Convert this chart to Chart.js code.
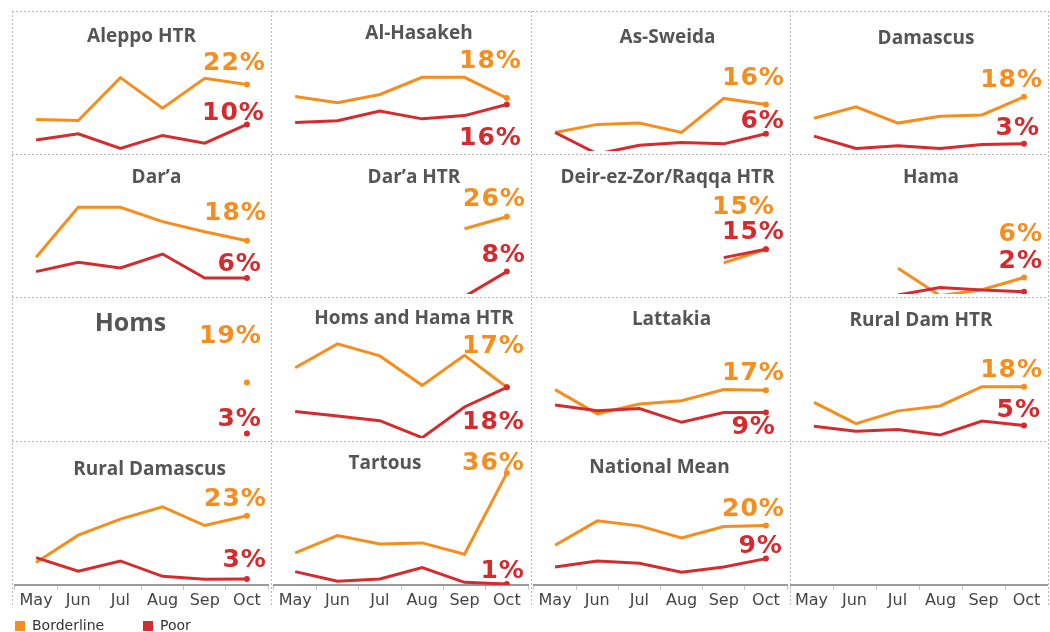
<!DOCTYPE html>
<html>
<head>
<meta charset="utf-8">
<script src="https://cdn.jsdelivr.net/npm/chart.js@4.4.1/dist/chart.umd.min.js"></script>
<style>
  html, body { margin: 0; padding: 0; background: #fff; }
  #wrap { position: relative; width: 1050px; height: 632px; overflow: hidden; }
  #wrap canvas { position: absolute; }
  .legend { position: absolute; top: 617px; font: 14px "DejaVu Sans", sans-serif; color: #333; }
  .legend span { display: inline-block; width: 10px; height: 10px; margin-right: 7px; vertical-align: -1px; }
</style>
</head>
<body>
<div id="wrap">
  <canvas id="bg" width="1050" height="632" style="left:0;top:0"></canvas>
  <div class="legend" style="left:15px"><span style="background:#F68D1F"></span>Borderline</div>
  <div class="legend" style="left:143px"><span style="background:#D52A2E"></span>Poor</div>
</div>
<script>
const months = ['May', 'Jun', 'Jul', 'Aug', 'Sep', 'Oct'];

const regions = [
  'Aleppo HTR', 'Al-Hasakeh', 'As-Sweida', 'Damascus',
  "Dar\u2019a", "Dar\u2019a HTR", 'Deir-ez-Zor/Raqqa HTR', 'Hama',
  'Homs', 'Homs and Hama HTR', 'Lattakia', 'Rural Dam HTR',
  'Rural Damascus', 'Tartous', 'National Mean'
];

// % of households
const borderline = [
  [11.0, 10.7, 23.9, 14.5, 23.7, 21.8],
  [18.1, 16.2, 18.7, 24.0, 24.0, 17.6],
  [7.0, 9.5, 9.9, 7.0, 17.5, 15.6],
  [11.4, 14.9, 9.9, 12.0, 12.4, 18.0],
  [12.6, 28.0, 28.0, 23.6, 20.5, 17.7],
  [null, null, null, null, 21.4, 25.1],
  [null, null, null, null, 10.9, 15.1],
  [null, null, 9.2, 0.8, 2.6, 6.4],
  [null, null, null, null, null, 18.3],
  [22.8, 30.1, 26.4, 17.4, 26.6, 16.8],
  [16.1, 8.7, 11.7, 12.7, 16.1, 15.9],
  [12.2, 5.7, 9.6, 11.1, 17.0, 17.0],
  [8.0, 16.2, 21.0, 24.7, 19.1, 22.0],
  [10.9, 16.1, 13.6, 13.9, 10.5, 34.8],
  [13.2, 20.5, 19.0, 15.4, 18.8, 19.1]
];

const poor = [
  [4.7, 6.6, 2.1, 6.1, 3.7, 9.5],
  [10.1, 10.6, 13.6, 11.2, 12.2, 15.6],
  [7.0, 0.4, 3.1, 3.9, 3.5, 6.6],
  [5.9, 2.1, 2.9, 2.1, 3.3, 3.5],
  [8.2, 11.1, 9.3, 13.6, 6.2, 6.2],
  [null, null, null, null, 0.5, 8.2],
  [null, null, null, null, 12.5, 15.1],
  [null, null, 1.0, 3.3, 2.5, 2.0],
  [null, null, null, null, null, 2.7],
  [9.4, 8.0, 6.6, 1.4, 10.8, 16.8],
  [11.4, 9.6, 10.3, 6.1, 9.1, 9.1],
  [4.9, 3.4, 3.9, 2.2, 6.5, 5.1],
  [9.5, 5.4, 8.5, 3.9, 3.0, 3.1],
  [5.3, 2.4, 3.1, 6.5, 2.1, 1.6],
  [6.7, 8.5, 7.8, 5.1, 6.7, 9.2]
];

// end-of-line labels as shown
const borderlineLabels = ['22%', '18%', '16%', '18%', '18%', '26%', '15%', '6%', '19%', '17%', '17%', '18%', '23%', '36%', '20%'];
const poorLabels = ['10%', '16%', '6%', '3%', '6%', '8%', '15%', '2%', '3%', '18%', '9%', '5%', '3%', '1%', '9%'];

// layout tweaks (Tableau placed these by hand)
const titleDx = [0, 18, 7, 7, 15, 13, 7, 12, -11, 13, 11, 2, 8, -16, -1];
const titleBase = [28, 25, 29, 30, 26, 26, 26, 26, 31, 24, 25, 26, 31, 25, 29];
const titleSize = [19, 19, 19, 19, 19, 19, 19, 19, 25, 19, 19, 19, 19, 19, 19];
const bLabelPos = [[18, -23], [14, -39], [18, -29], [18, -19], [19, -30], [18, -20], [8, -44], [18, -45],
  [14, -48], [17, -43], [18, -19], [18, -19], [19, -19], [17, -12], [18, -19]];
const pLabelPos = [[17, -13], [14, 31], [18, -15], [15, -18], [14, -16], [18, -19], [18, -19], [18, -33],
  [14, -16], [17, 33], [9, 13], [16, -18], [19, -21], [17, -15], [16, -15]];

const ORANGE = '#F68D1F';
const RED = '#D52A2E';
const colX = [12, 271, 531, 790, 1048];
const rowY = [11, 154, 297, 441, 585];
const AXIS_H = 24;

// dashed panel borders
(function drawGrid() {
  const c = document.getElementById('bg').getContext('2d');
  c.strokeStyle = '#b8b8b8';
  c.lineWidth = 1;
  c.setLineDash([2, 2]);
  colX.forEach(x => {
    c.beginPath(); c.moveTo(x + 0.5, rowY[0]); c.lineTo(x + 0.5, 606); c.stroke();
  });
  rowY.slice(0, 4).forEach(y => {
    c.beginPath(); c.moveTo(colX[0], y + 0.5); c.lineTo(colX[4], y + 0.5); c.stroke();
  });
})();

const panelText = {
  id: 'panelText',
  afterDatasetsDraw(chart, args, opts) {
    const i = opts.index;
    if (i == null || i >= regions.length) return;
    const { ctx, chartArea } = chart;
    ctx.save();
    ctx.fillStyle = '#555';
    ctx.font = 'bold ' + titleSize[i] + 'px "Open Sans"';
    ctx.textAlign = 'center';
    ctx.textBaseline = 'alphabetic';
    ctx.fillText(regions[i], (chartArea.left + chartArea.right) / 2 + titleDx[i], chartArea.top + titleBase[i]);

    ctx.font = 'bold 25px "DejaVu Sans"';
    ctx.letterSpacing = '1px';
    ctx.textAlign = 'right';
    [[0, borderlineLabels[i], bLabelPos[i], ORANGE], [1, poorLabels[i], pLabelPos[i], RED]].forEach(([d, txt, pos, col]) => {
      const pt = chart.getDatasetMeta(d).data[months.length - 1];
      ctx.fillStyle = col;
      ctx.fillText(txt, pt.x + pos[0] + 1, pt.y + pos[1] + 9);
    });
    ctx.restore();
  }
};

function lastDot(ctx) {
  return ctx.dataIndex === months.length - 1 ? 3 : 0;
}

function makeDataset(label, data, color, order) {
  return {
    label, data, order,
    borderColor: color,
    backgroundColor: color,
    borderWidth: 3,
    pointRadius: lastDot,
    pointBorderWidth: 0,
    pointHoverRadius: 0,
    tension: 0,
    spanGaps: false,
    clip: 0
  };
}

const wrap = document.getElementById('wrap');

for (let i = 0; i < 16; i++) {
  const col = i % 4, row = Math.floor(i / 4);
  const bottom = row === 3;
  const w = colX[col + 1] - colX[col];
  const h = rowY[row + 1] - rowY[row] + (bottom ? AXIS_H : 0);
  const cv = document.createElement('canvas');
  cv.width = w; cv.height = h;
  cv.style.left = colX[col] + 'px';
  cv.style.top = rowY[row] + 'px';
  wrap.appendChild(cv);

  const datasets = i < regions.length
    ? [makeDataset('Borderline', borderline[i], ORANGE, 1), makeDataset('Poor', poor[i], RED, 0)]
    : [];

  new Chart(cv, {
    type: 'line',
    data: { labels: months, datasets },
    options: {
      responsive: false,
      maintainAspectRatio: false,
      animation: false,
      events: [],
      layout: { padding: 0 },
      plugins: {
        legend: { display: false },
        tooltip: { enabled: false },
        panelText: { index: i }
      },
      scales: {
        x: {
          display: bottom,
          offset: true,
          grid: { display: true, drawOnChartArea: false, drawTicks: true, tickLength: 5, color: '#c8c8c8', offset: true },
          border: { display: true, color: '#9a9a9a', width: 2 },
          ticks: { color: '#444', padding: 1, maxRotation: 0, autoSkip: false, font: { family: 'DejaVu Sans', size: 16 } },
          afterFit(s) { if (bottom) s.height = AXIS_H; }
        },
        y: { display: false, min: 1.3, max: 43.5 }
      }
    },
    plugins: [panelText]
  });
}
</script>
</body>
</html>
